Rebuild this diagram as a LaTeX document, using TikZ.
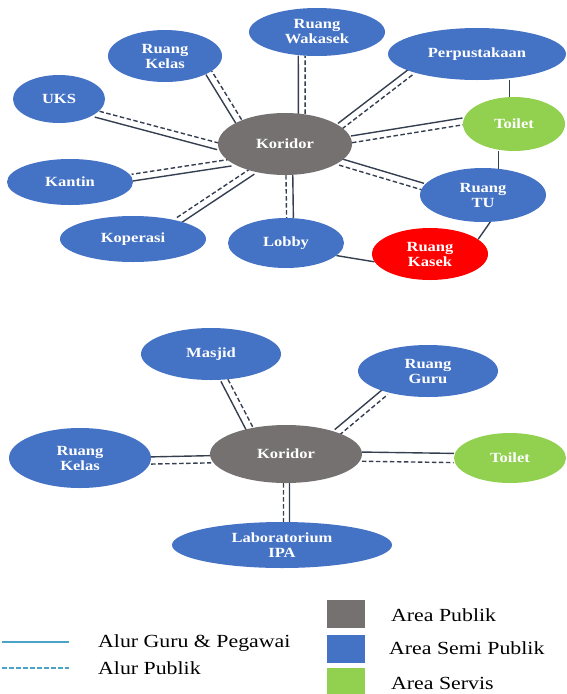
\documentclass[tikz,border=0pt]{standalone}
\usepackage{fontspec}
\setmainfont{Liberation Serif}[FakeStretch=1.18]
\usepackage{tikz}
\usetikzlibrary{shapes.geometric}
\usetikzlibrary{calc}
\usetikzlibrary{backgrounds}

\definecolor{publik}{HTML}{767171}
\definecolor{semi}{HTML}{4472C4}
\definecolor{servis}{HTML}{92D050}
\definecolor{kasekred}{HTML}{FF0000}
\definecolor{linkcol}{HTML}{353F50}
\definecolor{keycol}{HTML}{4BA3C8}

% pair of flows: solid (guru) and dashed (publik) side by side
\newcommand{\alur}[3][3.4pt]{%
  \path (#2) -- (#3) coordinate[pos=0] (a0) coordinate[pos=1] (a1);
  \draw[guru] ($(a0)!#1!90:(a1)$) -- ($(a1)!#1!-90:(a0)$);
  \draw[publik] ($(a0)!#1!-90:(a1)$) -- ($(a1)!#1!90:(a0)$);
}

\begin{document}
\begin{tikzpicture}[x=1pt, y=-1pt,
    room/.style={ellipse, fill=semi, text=white, inner sep=0pt, align=center,
      font=\fontsize{14}{15}\selectfont\bfseries},
    axes/.style 2 args={minimum width=#1pt, minimum height=#2pt},
    guru/.style={draw=linkcol, line width=1.4pt},
    publik/.style={draw=linkcol, line width=1.4pt, dash pattern=on 4.5pt off 2.5pt},
    link/.style={draw=linkcol, line width=1.4pt},
    key/.style={anchor=west, inner sep=0pt, font=\fontsize{18.5}{20}\selectfont},
    swatch/.style={minimum width=38pt, minimum height=28pt, inner sep=0pt}]
    \useasboundingbox (0,0) rectangle (567,694);

    % upper diagram
    \node (kor) [room, fill=publik, axes={134}{62}] at (285,144) {Koridor};
    \node (kelas) [room, axes={114}{52}] at (165,56) {Ruang\\Kelas};
    \node (waka) [room, axes={136}{48}] at (317,32) {Ruang\\Wakasek};
    \node (perp) [room, axes={178}{52}] at (477,54) {Perpustakaan};
    \node (uks) [room, axes={92}{48}] at (59,99) {UKS};
    \node (toil) [room, fill=servis, axes={102}{54}] at (514,124) {Toilet};
    \node (kantin) [room, axes={126}{46}] at (70,182) {Kantin};
    \node (tu) [room, axes={126}{54}] at (483,195) {Ruang\\TU};
    \node (kop) [room, axes={146}{46}] at (133,239) {Koperasi};
    \node (lobby) [room, axes={116}{50}] at (286,243) {Lobby};
    \node (kasek) [room, fill=kasekred, axes={116}{52}] at (430,254) {Ruang\\Kasek};

    % lower diagram
    \node (kor2) [room, fill=publik, axes={152}{58}] at (286,454) {Koridor};
    \node (masjid) [room, axes={140}{52}] at (211,354) {Masjid};
    \node (guru) [room, axes={140}{52}] at (428,371) {Ruang\\Guru};
    \node (kelas2) [room, axes={142}{60}] at (80,458) {Ruang\\Kelas};
    \node (toil2) [room, fill=servis, axes={112}{50}] at (510,458) {Toilet};
    \node (lab) [room, axes={220}{46}] at (282,545) {Laboratorium\\IPA};

    \begin{scope}[on background layer]
        \alur{kor.154}{kelas.339}
        \alur{kor.61}{waka.237}
        \alur{kor.18}{perp.195}
        \alur{kor.182}{uks.-22}
        \alur{kor.4}{toil.177}
        \alur{kor.-18}{tu.172}
        \alur{kor.199}{kantin.4}
        \alur{kor.220}{kop.22}
        \alur{kor.278}{lobby.81}
        \draw[link] (perp.south -| toil.100) -- (toil.100);
        \draw[link] (tu.60) -- (tu.60 |- toil.south);
        \draw[link] (tu.-75) -- (kasek.17);
        \draw[link] (lobby.-14) -- (kasek.188);

        \alur[3.6pt]{kor2.145}{masjid.-63}
        \alur[3.6pt]{kor2.23}{guru.206}
        \alur[3.6pt]{kelas2.358}{kor2.184}
        \alur[4.6pt]{kor2.358}{toil2.180}
        \alur[3pt]{kor2.271}{lab.79}
    \end{scope}

    % legend
    \coordinate (g0) at (2,642);
    \coordinate (g1) at (69,642);
    \coordinate (p0) at (2,668);
    \coordinate (p1) at (69,668);
    \draw[keycol, line width=1.3pt] (g0) -- (g1);
    \draw[keycol, line width=1.3pt, dash pattern=on 4.5pt off 2.5pt] (p0) -- (p1);
    \node (kguru) [key] at (98,643) {Alur Guru \& Pegawai};
    \node (kpublik) [key] at (98,668) {Alur Publik};

    \node (sq1) [swatch, fill=publik] at (346,614) {};
    \node (sq2) [swatch, fill=semi] at (346,648.5) {};
    \node (sq3) [swatch, fill=servis] at (346,682) {};
    \node (kp) [key] at (391,615) {Area Publik};
    \node (ks) [key] at (389,648) {Area Semi Publik};
    \node (kv) [key] at (391,683) {Area Servis};
\end{tikzpicture}
\end{document}
